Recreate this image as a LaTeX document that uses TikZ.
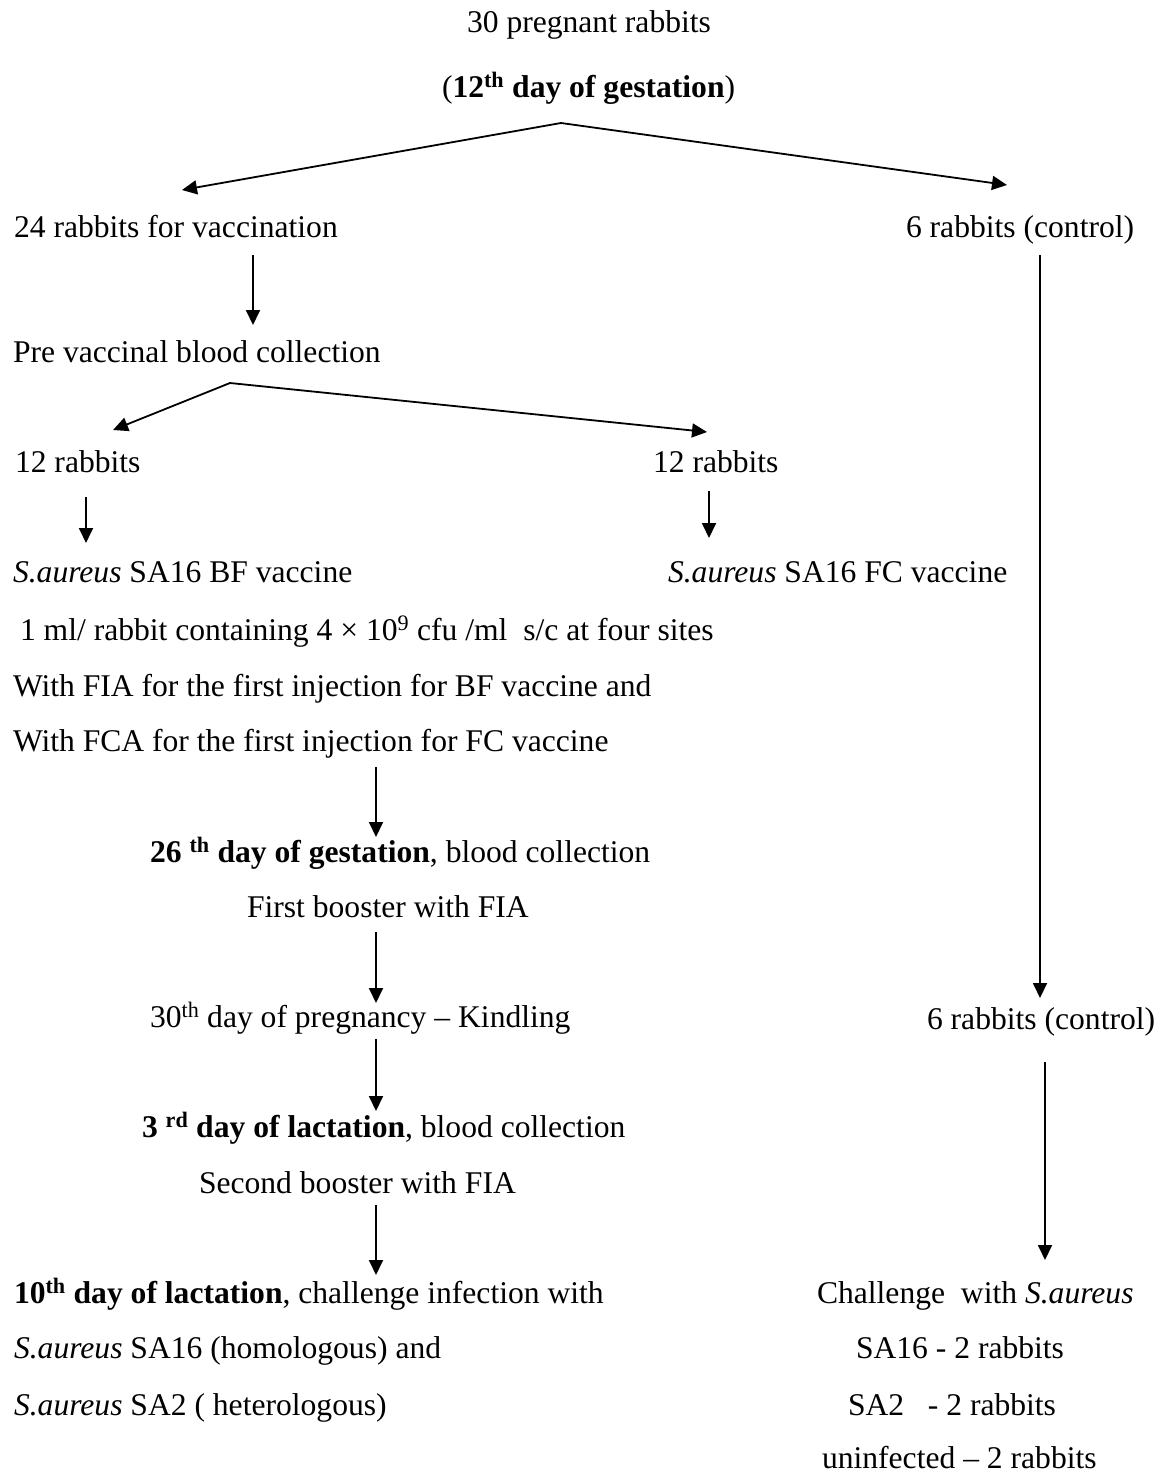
\documentclass[tikz,border=0pt]{standalone}
\usepackage{fontspec}
\setmainfont{Liberation Serif}
\usetikzlibrary{arrows.meta}
\newcommand\fsz{\fontsize{31.6}{38}\selectfont}
\begin{document}
\begin{tikzpicture}[x=1pt,y=-1pt,
  t/.style={anchor=base west,inner sep=0pt,outer sep=0pt,font=\fsz},
  arr/.style={line width=1.8pt,-{Triangle[length=15pt,width=14pt]}},
  fork/.style={line width=1.8pt,{Triangle[length=15pt,width=14pt]}-{Triangle[length=15pt,width=14pt]}}]
\useasboundingbox[fill=white] (0,0) rectangle (1166,1473);

% texts
\node[t] (title) at (467,32) {30 pregnant rabbits};
\node[t] (gest) at (442,97) {(\textbf{12\textsuperscript{th} day of gestation})};
\node[t] (vac) at (14,237) {24 rabbits for vaccination};
\node[t] (ctrl) at (906,237) {6 rabbits (control)};
\node[t] (pre) at (13,362) {Pre vaccinal blood collection};
\node[t] (twL) at (15,472) {12 rabbits};
\node[t] (twR) at (653,472) {12 rabbits};
\node[t] (bf) at (13,582) {\textit{S.aureus} SA16 BF vaccine};
\node[t] (fc) at (668,582) {\textit{S.aureus} SA16 FC vaccine};
\node[t] (ml) at (20,640) {1 ml/ rabbit containing 4 × 10\textsuperscript{9} cfu /ml\ \ s/c at four sites};
\node[t] (fia) at (13,696) {With FIA for the first injection for BF vaccine and};
\node[t] (fca) at (13,751) {With FCA for the first injection for FC vaccine};
\node[t] (d26) at (150,862) {\textbf{26 \textsuperscript{th} day of gestation}, blood collection};
\node[t] (b1) at (247,917) {First booster with FIA};
\node[t] (d30) at (150,1027) {30\textsuperscript{th} day of pregnancy – Kindling};
\node[t] (ctrl2) at (927,1029) {6 rabbits (control)};
\node[t] (d3) at (142,1137) {\textbf{3 \textsuperscript{rd} day of lactation}, blood collection};
\node[t] (b2) at (199,1193) {Second booster with FIA};
\node[t] (d10) at (14,1303) {\textbf{10\textsuperscript{th} day of lactation}, challenge infection with};
\node[t] (chal) at (817,1303) {Challenge\ \ with \textit{S.aureus}};
\node[t] (h16) at (14,1358) {\textit{S.aureus} SA16 (homologous) and};
\node[t] (r16) at (856,1358) {SA16 - 2 rabbits};
\node[t] (h2) at (14,1415) {\textit{S.aureus} SA2 ( heterologous)};
\node[t] (r2) at (848,1415) {SA2\ \ \ - 2 rabbits};
\node[t] (un) at (822,1468) {uninfected – 2 rabbits};

% connector end points
\coordinate (apex1) at (561,123);
\coordinate (tipVac) at (182,190);
\coordinate (tipCtrl) at (1007,185);
\coordinate (vacS) at (253,255);
\coordinate (preN) at (253,325);
\coordinate (apex2) at (230,383);
\coordinate (tipTwL) at (113,430);
\coordinate (tipTwR) at (707,432);
\coordinate (twLS) at (86,497);
\coordinate (bfN) at (86,543);
\coordinate (twRS) at (709,491);
\coordinate (fcN) at (709,538);
\coordinate (fcaS) at (376,767);
\coordinate (d26N) at (376,837);
\coordinate (b1S) at (376,932);
\coordinate (d30N) at (376,1003);
\coordinate (d30S) at (376,1039);
\coordinate (d3N) at (376,1111);
\coordinate (b2S) at (376,1205);
\coordinate (d10N) at (376,1275);
\coordinate (ctrlS) at (1040,255);
\coordinate (ctrl2N) at (1040,998);
\coordinate (ctrl2S) at (1045,1062);
\coordinate (chalN) at (1045,1260);

% connectors
\draw[fork] (tipVac) -- (apex1) -- (tipCtrl);
\draw[arr] (vacS) -- (preN);
\draw[fork] (tipTwL) -- (apex2) -- (tipTwR);
\draw[arr] (twLS) -- (bfN);
\draw[arr] (twRS) -- (fcN);
\draw[arr] (fcaS) -- (d26N);
\draw[arr] (b1S) -- (d30N);
\draw[arr] (d30S) -- (d3N);
\draw[arr] (b2S) -- (d10N);
\draw[arr] (ctrlS) -- (ctrl2N);
\draw[arr] (ctrl2S) -- (chalN);
\end{tikzpicture}
\end{document}
